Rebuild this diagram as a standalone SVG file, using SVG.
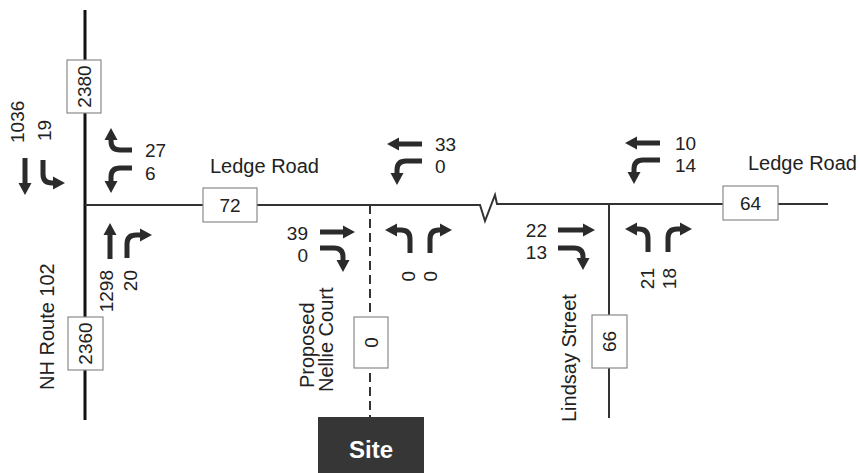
<svg xmlns="http://www.w3.org/2000/svg" width="860" height="473" viewBox="0 0 860 473">
<style>
text{font-family:"Liberation Sans",Arial,sans-serif;fill:#222;}
.lbl{font-size:20px;}
.num{font-size:19px;}
.box rect{fill:#fff;stroke:#8a8a8a;stroke-width:1.2;}
.box text{font-size:19px;text-anchor:middle;}
.arw{fill:none;stroke:#2b2b2b;stroke-width:5;marker-end:url(#ah);}
.road{fill:none;stroke:#333;stroke-width:2;}
.end{text-anchor:end;}
</style>
<defs>
<marker id="ah" viewBox="0 -7 12 14" markerWidth="12" markerHeight="14" refX="1" refY="0" orient="auto" markerUnits="userSpaceOnUse">
<path d="M0,-6.5 L12,0 L0,6.5 Z" fill="#2b2b2b"/>
</marker>
</defs>
<rect width="860" height="473" fill="#fff"/>
<g id="roads">
<line x1="85" y1="10" x2="85" y2="420" stroke="#111" stroke-width="3"/>
<polyline class="road" points="85,205 480,205 485,221 495,195 497,204 828,204"/>
<line class="road" x1="370" y1="205" x2="370" y2="417" stroke-dasharray="9,5"/>
<line class="road" x1="609" y1="204" x2="609" y2="418"/>
</g>
<g id="connectors">
<path class="arw" d="M25,158 V184"/>
<path class="arw" d="M43,160 V174 Q43,183 52,183 H54"/>
<path class="arw" d="M132,150 H120 Q111,150 111,141 V139"/>
<path class="arw" d="M132,168 H120 Q111,168 111,177 V182"/>
<path class="arw" d="M110,259 V234"/>
<path class="arw" d="M127,258 V244 Q127,235 136,235 H141"/>
<path class="arw" d="M422,144 H398"/>
<path class="arw" d="M422,161 H406 Q397,161 397,170 V174"/>
<path class="arw" d="M320,232 H344"/>
<path class="arw" d="M320,248 H334 Q343,248 343,257 V261"/>
<path class="arw" d="M410,253 V239 Q410,230 401,230 H396"/>
<path class="arw" d="M430,253 V239 Q430,230 439,230 H441"/>
<path class="arw" d="M660,143 H636"/>
<path class="arw" d="M660,160 H643 Q634,160 634,169 V173"/>
<path class="arw" d="M558,230 H584"/>
<path class="arw" d="M558,248 H574 Q583,248 583,257 V259"/>
<path class="arw" d="M648,252 V238 Q648,229 639,229 H636"/>
<path class="arw" d="M668,252 V238 Q668,229 677,229 H681"/>
</g>
<g id="box-2380" class="box"><rect x="67" y="60" width="34" height="53"/><text transform="translate(84,86.5) rotate(-90)" dy="0.35em">2380</text></g>
<g id="box-2360" class="box"><rect x="68" y="317" width="35" height="53"/><text transform="translate(85.5,343.5) rotate(-90)" dy="0.35em">2360</text></g>
<g id="box-72" class="box"><rect x="203" y="188" width="54" height="34"/><text x="230" y="205" dy="0.35em">72</text></g>
<g id="box-0" class="box"><rect x="354" y="317" width="34" height="51"/><text transform="translate(371,342.5) rotate(-90)" dy="0.35em">0</text></g>
<g id="box-66" class="box"><rect x="592" y="315" width="35" height="53"/><text transform="translate(609.5,341.5) rotate(-90)" dy="0.35em">66</text></g>
<g id="box-64" class="box"><rect x="723" y="186" width="55" height="34"/><text x="750.5" y="203" dy="0.35em">64</text></g>
<g id="site"><rect x="318" y="417" width="106" height="56" fill="#363636"/><text x="371" y="458" text-anchor="middle" font-size="24" font-weight="bold" style="fill:#fff">Site</text></g>
<g id="labels">
<text class="lbl" x="210" y="173">Ledge Road</text>
<text class="lbl" x="748" y="170">Ledge Road</text>
<text class="lbl" transform="translate(54,390) rotate(-90)">NH Route 102</text>
<text class="lbl" transform="translate(314,388) rotate(-90)">Proposed</text>
<text class="lbl" transform="translate(333,392) rotate(-90)">Nellie Court</text>
<text class="lbl" transform="translate(576,422) rotate(-90)">Lindsay Street</text>
</g>
<g id="volumes" class="num">
<text class="num" transform="translate(24,143) rotate(-90)">1036</text>
<text class="num" transform="translate(51,141) rotate(-90)">19</text>
<text class="num" x="145" y="157">27</text>
<text class="num" x="145" y="180">6</text>
<text class="num end" transform="translate(113,270) rotate(-90)">1298</text>
<text class="num end" transform="translate(137,270) rotate(-90)">20</text>
<text class="num" x="435" y="151">33</text>
<text class="num" x="435" y="173">0</text>
<text class="num end" x="308" y="240">39</text>
<text class="num end" x="308" y="262">0</text>
<text class="num end" transform="translate(415,271) rotate(-90)">0</text>
<text class="num end" transform="translate(437,271) rotate(-90)">0</text>
<text class="num" x="675" y="150">10</text>
<text class="num" x="675" y="172">14</text>
<text class="num end" x="547" y="237">22</text>
<text class="num end" x="547" y="259">13</text>
<text class="num end" transform="translate(654,268) rotate(-90)">21</text>
<text class="num end" transform="translate(676,268) rotate(-90)">18</text>
</g>
</svg>
